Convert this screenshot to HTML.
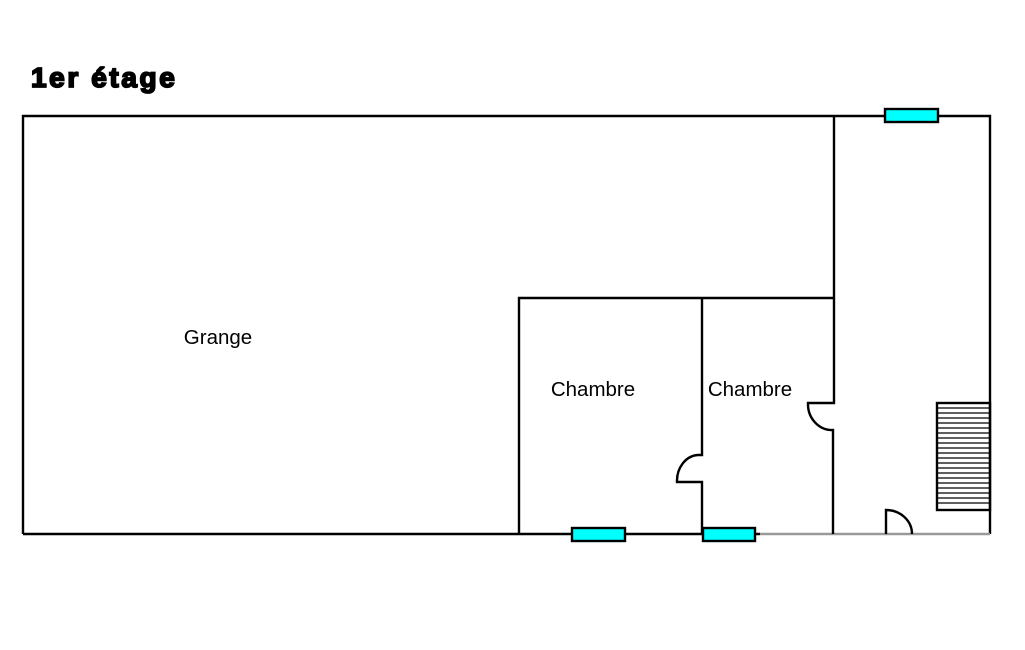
<!DOCTYPE html>
<html><head><meta charset="utf-8"><style>
html,body{margin:0;padding:0;background:#fff;width:1025px;height:650px;overflow:hidden}
svg{display:block}
text{font-family:"Liberation Sans",Arial,sans-serif}
</style></head><body>
<svg width="1025" height="650" viewBox="0 0 1025 650" xmlns="http://www.w3.org/2000/svg">
<text x="31" y="87" font-size="28" font-weight="bold" letter-spacing="2.6" fill="#000" stroke="#000" stroke-width="1.8">1er étage</text>
<g fill="none" stroke="#000" stroke-width="2.4">
<path d="M23,534 V116 H990 V534"/>
<path d="M23,534 H760"/>
<path d="M760,534 H990" stroke="#999"/>
<path d="M834,116 V403 H808 A24,26 0 0 0 833,430 V534"/>
<path d="M519,534 V298 H834"/>
<path d="M702,298 V455 H698 A22,26 0 0 0 677,482 H702 V534"/>
<path d="M886,534 V510 A26,24 0 0 1 912,534"/>
<rect x="937" y="403" width="53" height="107"/>
</g>
<g stroke="#000" stroke-width="1.2">
<line x1="937" y1="408" x2="990" y2="408"/><line x1="937" y1="413" x2="990" y2="413"/>
<line x1="937" y1="418" x2="990" y2="418"/><line x1="937" y1="423" x2="990" y2="423"/>
<line x1="937" y1="428" x2="990" y2="428"/><line x1="937" y1="433" x2="990" y2="433"/>
<line x1="937" y1="438" x2="990" y2="438"/><line x1="937" y1="443" x2="990" y2="443"/>
<line x1="937" y1="448" x2="990" y2="448"/><line x1="937" y1="453" x2="990" y2="453"/>
<line x1="937" y1="458" x2="990" y2="458"/><line x1="937" y1="463" x2="990" y2="463"/>
<line x1="937" y1="468" x2="990" y2="468"/><line x1="937" y1="473" x2="990" y2="473"/>
<line x1="937" y1="478" x2="990" y2="478"/><line x1="937" y1="483" x2="990" y2="483"/>
<line x1="937" y1="488" x2="990" y2="488"/><line x1="937" y1="493" x2="990" y2="493"/>
<line x1="937" y1="498" x2="990" y2="498"/><line x1="937" y1="503" x2="990" y2="503"/>
</g>
<g fill="#00ffff" stroke="#000" stroke-width="2.4">
<rect x="885" y="109" width="53" height="13"/>
<rect x="572" y="528" width="53" height="13"/>
<rect x="703" y="528" width="52" height="13"/>
</g>
<g font-size="20.5" fill="#000" text-anchor="middle">
<text x="218" y="344">Grange</text>
<text x="593" y="396">Chambre</text>
<text x="750" y="396">Chambre</text>
</g>
</svg>
</body></html>
